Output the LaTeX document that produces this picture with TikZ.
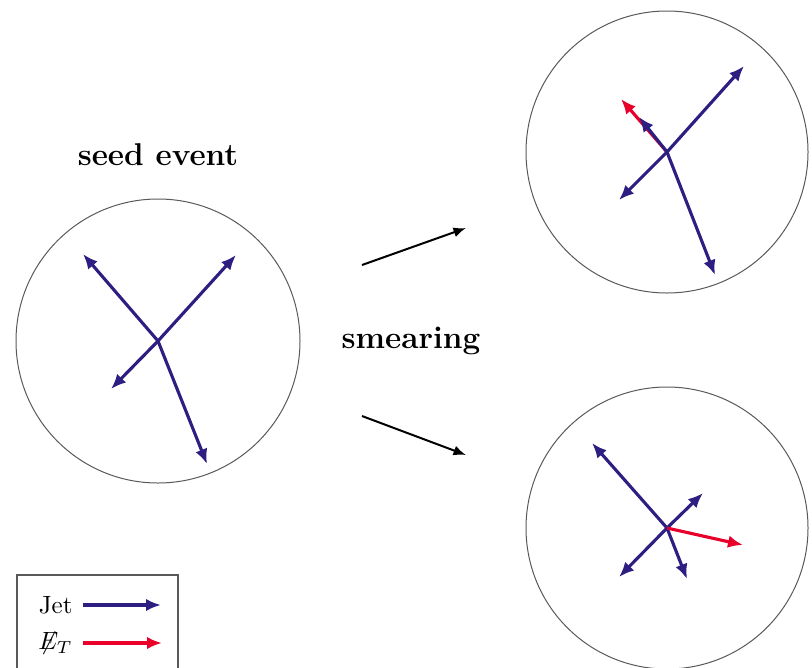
\documentclass[tikz,border=0pt]{standalone}
\usepackage{amsmath}
\usepackage{xcolor}
\usepackage{tikz}
\usetikzlibrary{positioning,arrows.meta}
\definecolor{jetblue}{RGB}{45,30,130}
\definecolor{metred}{RGB}{232,0,42}

\begin{document}
\begin{tikzpicture}[x=0.4pt, y=-0.4pt,
  event/.style={draw=black!65, line width=0.4pt},
  jet/.style={-{Latex[length=6pt,width=5pt]}, line width=1.25pt, draw=jetblue},
  met/.style={-{Latex[length=6pt,width=5pt]}, line width=1.25pt, draw=metred},
  arrow/.style={-{Latex[length=5pt,width=4pt]}, line width=0.8pt},
  title/.style={font=\fontsize{12.6}{15}\selectfont\bfseries}
]
\useasboundingbox (0,0) rectangle (812,667);

% events
\coordinate (seed) at (158,341);
\coordinate (up) at (667,152);
\coordinate (down) at (667,528);
\draw[event] (seed) circle [radius=142];
\draw[event] (up) circle [radius=141];
\draw[event] (down) circle [radius=141];

% seed event
\draw[jet] (seed) -- (83,254);
\draw[jet] (seed) -- (236,255);
\draw[jet] (seed) -- (111,389);
\draw[jet] (seed) -- (207,464);

% smeared, upper
\draw[met] (up) -- (621,99);
\draw[jet] (up) -- (639,117);
\draw[jet] (up) -- (744,66);
\draw[jet] (up) -- (619,200);
\draw[jet] (up) -- (715,275);

% smeared, lower
\draw[jet] (down) -- (592,443);
\draw[jet] (down) -- (703,493);
\draw[jet] (down) -- (619,577);
\draw[jet] (down) -- (687,579);
\draw[met] (down) -- (743,545);

% labels
\node[title] (seedlbl) at (158,155) {seed event};
\node[title] (smear) at (411,341) {smearing};
\coordinate (fromtop) at (362,265);
\coordinate (totop) at (466,228);
\coordinate (frombot) at (362,416);
\coordinate (tobot) at (466,455);
\draw[arrow] (fromtop) -- (totop);
\draw[arrow] (frombot) -- (tobot);

% legend
\draw[black!65, line width=0.5pt] (17,575) rectangle (178,700);
\node[anchor=east, inner sep=0pt] (jetlbl) at (73,605) {Jet};
\node[anchor=east, inner sep=0pt] (metlbl) at (73,643) {$\not\!\!E_T$};
\draw[jet] ([xshift=4pt]jetlbl.east) -- ++(78,0) coordinate (jetend);
\draw[met] ([xshift=4pt]metlbl.east) -- ++(79,0) coordinate (metend);
\end{tikzpicture}
\end{document}
